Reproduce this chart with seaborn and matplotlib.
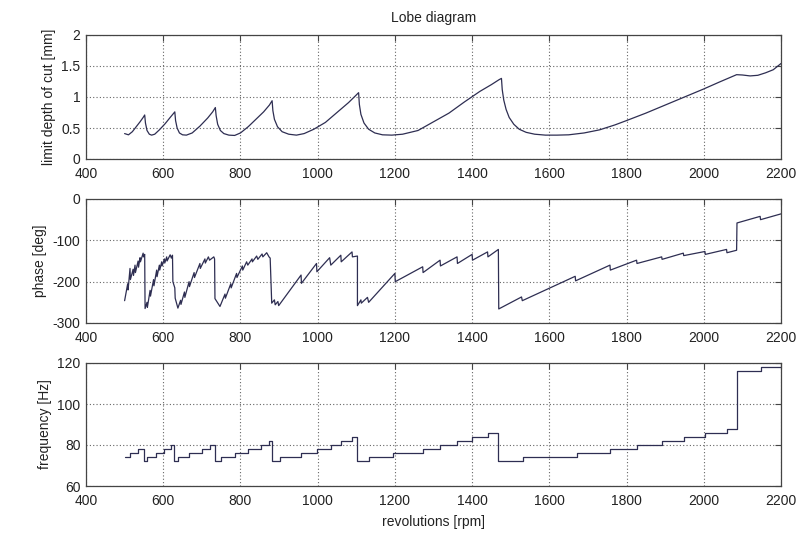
import matplotlib
matplotlib.use("Agg")
import matplotlib.pyplot as plt
import seaborn as sns
import pandas as pd

# ---------------- data ----------------
x_ticks = [400, 600, 800, 1000, 1200, 1400, 1600, 1800, 2000, 2200]
x_tick_labels = ["400", "600", "800", "1000", "1200", "1400", "1600", "1800", "2000", "2200"]

depth_rpm = [500, 510, 520, 530, 540, 548, 552, 554, 558, 564, 570,
             578, 590, 605, 618, 626, 630, 632, 636, 642, 650, 660,
             675, 695, 715, 728, 735, 737, 741, 748, 757, 770, 785,
             800, 820, 840, 860, 875, 882, 884, 888, 896, 908, 925, 945,
             965, 990, 1020, 1050, 1080, 1098, 1106, 1108, 1112, 1120, 1132, 1148, 1168, 1192,
             1220, 1260, 1300, 1340, 1380, 1420, 1450, 1470, 1476, 1478, 1482, 1488, 1496,
             1508, 1522, 1540, 1562, 1590, 1620, 1650, 1690, 1730, 1770, 1800, 1850,
             1900, 1950, 2000, 2040, 2070, 2085, 2100, 2120, 2140, 2160, 2180, 2200]
depth_mm = [0.41, 0.39, 0.44, 0.52, 0.60, 0.67, 0.71, 0.58, 0.46, 0.40, 0.385,
            0.40, 0.47, 0.57, 0.67, 0.73, 0.76, 0.62, 0.50, 0.42, 0.39, 0.385,
            0.42, 0.53, 0.66, 0.76, 0.83, 0.70, 0.56, 0.46, 0.41, 0.385, 0.38,
            0.42, 0.52, 0.64, 0.76, 0.87, 0.94, 0.78, 0.64, 0.52, 0.44, 0.40, 0.385,
            0.41, 0.48, 0.59, 0.75, 0.91, 1.02, 1.07, 0.88, 0.72, 0.58, 0.48, 0.42, 0.39, 0.385,
            0.40, 0.46, 0.60, 0.74, 0.92, 1.09, 1.20, 1.28, 1.30, 1.12, 0.95, 0.80, 0.67,
            0.56, 0.48, 0.43, 0.40, 0.385, 0.385, 0.39, 0.42, 0.47, 0.55, 0.62, 0.74,
            0.87, 1.00, 1.13, 1.24, 1.32, 1.36, 1.355, 1.34, 1.35, 1.39, 1.44, 1.54]
depth_ticks = [0, 0.5, 1, 1.5, 2]
depth_tick_labels = ["0", "0.5", "1", "1.5", "2"]

phase_rpm = [500, 508, 509, 514, 515, 522, 523, 527, 528, 535, 536, 540, 541, 548, 549, 552,
             553, 558, 559, 566, 567, 575, 576, 583, 584, 590, 591, 596, 597, 603, 604, 609, 610,
             618, 621, 624, 625, 630, 631, 638,
             645, 646, 655, 656, 667, 668, 680, 681, 695, 696, 708, 709, 717, 720, 731, 733,
             734, 740, 747,
             760, 761, 775, 776, 790, 791, 805, 806, 816, 819, 830, 831, 842, 845, 856, 858,
             868, 874, 877, 881,
             888, 890, 897, 899, 957, 958, 997, 998, 1031, 1034, 1060, 1061, 1089, 1090, 1103, 1103,
             1112, 1113, 1129, 1132, 1200, 1201, 1272, 1273, 1317, 1318, 1361, 1362, 1400, 1401,
             1440, 1441, 1468, 1469,
             1528, 1530, 1667, 1668, 1757, 1758, 1826, 1827, 1891, 1892, 1947, 1948, 2003, 2004,
             2059, 2060, 2085, 2086, 2146, 2147, 2200]
phase_deg = [-246, -205, -220, -168, -195, -170, -185, -160, -178, -150, -165, -142, -152, -131, -140, -134,
             -265, -250, -262, -221, -235, -195, -210, -172, -188, -160, -172, -152, -162, -145, -155, -140, -150,
             -135, -143, -136, -200, -215, -240, -264,
             -245, -255, -225, -238, -200, -212, -178, -190, -156, -168, -145, -155, -140, -148, -140, -145,
             -241, -250, -260,
             -230, -240, -205, -215, -180, -190, -162, -172, -152, -160, -145, -152, -138, -146, -133, -140,
             -130, -140, -143, -252,
             -244, -256, -248, -258, -184, -204, -156, -176, -142, -160, -136, -152, -128, -140, -138, -258,
             -244, -252, -238, -250, -180, -200, -164, -178, -148, -162, -140, -156, -134, -148,
             -128, -140, -122, -266,
             -237, -246, -187, -198, -160, -172, -148, -156, -140, -146, -131, -137, -127, -134,
             -122, -130, -124, -58, -42, -50, -36]
phase_ticks = [-300, -200, -100, 0]
phase_tick_labels = ["-300", "-200", "-100", "0"]

freq_rpm = [500, 515, 534, 551, 557, 582, 602, 620, 629, 637,
            668, 700, 720, 733, 749, 786, 819, 852, 874, 881,
            902, 958, 997, 1034, 1061, 1090, 1103, 1132, 1196, 1272,
            1317, 1361, 1400, 1440, 1467, 1533, 1671, 1758, 1827, 1891,
            1948, 2003, 2060, 2086, 2147, 2200]
freq_hz = [74, 76, 78, 72, 74, 76, 78, 80, 72, 74,
           76, 78, 80, 72, 74, 76, 78, 80, 82, 72,
           74, 76, 78, 80, 82, 84, 72, 74, 76, 78,
           80, 82, 84, 86, 72, 74, 76, 78, 80, 82,
           84, 86, 88, 116, 118, 118]
freq_ticks = [60, 80, 100, 120]
freq_tick_labels = ["60", "80", "100", "120"]

title = "Lobe diagram"
xlabel = "revolutions [rpm]"
ylabels = ["limit depth of cut [mm]", "phase [deg]", "frequency [Hz]"]

# ---------------- style ----------------
sns.set_theme(style="white")
plt.rcParams["font.family"] = ["Liberation Sans", "DejaVu Sans"]
plt.rcParams["font.size"] = 10

line_color = "#2e2e52"
frame_color = "#444444"

fig = plt.figure(figsize=(8.0, 5.34), dpi=100)
W, H = 800.0, 534.0
left, right = 86 / W, 781 / W
boxes = [(35, 159), (199, 323), (363, 486)]
axes = []
for top, bot in boxes:
    ax = fig.add_axes([left, 1 - bot / H, right - left, (bot - top) / H])
    axes.append(ax)

df_depth = pd.DataFrame({"rpm": depth_rpm, "val": depth_mm})
df_phase = pd.DataFrame({"rpm": phase_rpm, "val": phase_deg})
df_freq = pd.DataFrame({"rpm": freq_rpm, "val": freq_hz})

sns.lineplot(data=df_depth, x="rpm", y="val", ax=axes[0], color=line_color,
             linewidth=0.9, estimator=None, sort=False)
sns.lineplot(data=df_phase, x="rpm", y="val", ax=axes[1], color=line_color,
             linewidth=0.9, estimator=None, sort=False)
sns.lineplot(data=df_freq, x="rpm", y="val", ax=axes[2], color=line_color,
             linewidth=0.9, estimator=None, sort=False, drawstyle="steps-post")

ylims = [(0, 2), (-300, 0), (60, 120)]
yticks = [depth_ticks, phase_ticks, freq_ticks]
ytl = [depth_tick_labels, phase_tick_labels, freq_tick_labels]
for i, ax in enumerate(axes):
    ax.set_xlim(400, 2200)
    ax.set_ylim(*ylims[i])
    ax.set_xticks(x_ticks)
    ax.set_xticklabels(x_tick_labels)
    ax.set_yticks(yticks[i])
    ax.set_yticklabels(ytl[i])
    ax.set_ylabel(ylabels[i], fontsize=10, color="#222222", labelpad=4)
    ax.set_xlabel("")
    ax.grid(True, linestyle=(0, (1, 2)), color="#666666", linewidth=0.8)
    ax.tick_params(direction="in", length=4, width=0.8, top=True, right=True,
                   labelsize=10, colors=frame_color, labelcolor="#222222")
    ax.tick_params(axis="x", pad=6)
    ax.tick_params(axis="y", pad=4)
    for s in ax.spines.values():
        s.set_color(frame_color)
        s.set_linewidth(0.9)
        s.set_visible(True)

axes[0].set_title(title, fontsize=10, color="#222222", pad=9)
axes[2].set_xlabel(xlabel, fontsize=10, color="#222222", labelpad=5)

fig.savefig("out.png", dpi=100, facecolor="white")
